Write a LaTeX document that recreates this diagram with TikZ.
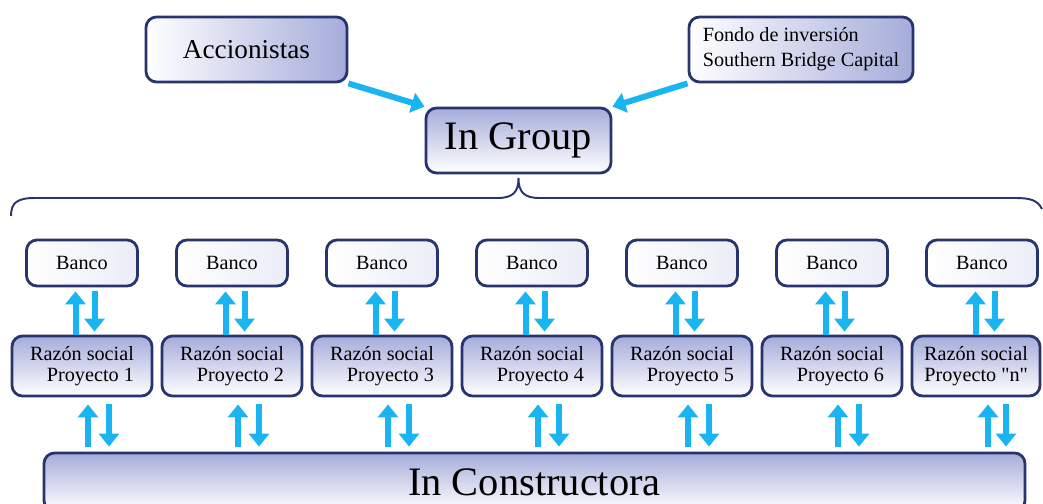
\documentclass[tikz,border=0pt]{standalone}
\usepackage{fontspec}
\setmainfont{Liberation Serif}[Ligatures=TeXOff]
\usetikzlibrary{arrows.meta,positioning}
\definecolor{boxline}{RGB}{40,52,110}
\definecolor{boxtop}{RGB}{165,172,218}
\definecolor{flowblue}{RGB}{26,180,240}
\tikzset{
     orgbox/.style   = {draw=boxline, line width=1.6pt, rounded corners=6pt, inner sep=0pt},
     vbox/.style     = {orgbox, top color=boxtop, bottom color=white},
     hbox/.style     = {orgbox, left color=white, right color=boxtop},
     bancobox/.style = {orgbox, left color=white, right color=boxtop!22,
                        minimum width=2.22cm, minimum height=0.92cm, font=\fontsize{11.5}{12}\selectfont},
     razonbox/.style = {vbox, minimum width=2.8cm, minimum height=1.2cm, align=right,
                        font=\fontsize{11.5}{12}\selectfont},
     flow/.style     = {flowblue, line width=0.12cm, -{Triangle[width=0.4cm,length=0.26cm]}},
     brace/.style    = {boxline, line width=1.1pt},
    }

\begin{document}
\begin{tikzpicture}[node distance=3cm,on grid]
        \useasboundingbox (0,0) rectangle (20.86,-10.08);

        % top level
        \node [hbox, minimum width=4.02cm, minimum height=1.3cm, font=\fontsize{15.5}{17}\selectfont]
              (acc) at (4.93,-0.99) {Accionistas};
        \node [hbox, minimum width=4.48cm, minimum height=1.3cm, align=left, font=\fontsize{11.5}{14.2}\selectfont]
              (fondo) at (16.02,-0.99) {Fondo de inversión\\ Southern Bridge Capital};
        \node [vbox, minimum width=3.7cm, minimum height=1.3cm, font=\fontsize{23}{25}\selectfont]
              (ig) at (10.37,-2.81) {In Group};

        \draw[flow] (acc.south east) -- (ig.north west);
        \draw[flow] (fondo.south west) -- (ig.north east);

        % brace
        \draw[brace] (0.22,-4.32) .. controls (0.22,-4.05) and (0.35,-3.96) .. (0.7,-3.96)
              -- (9.95,-3.96) .. controls (10.25,-3.96) and (10.37,-3.85) .. (10.37,-3.56)
              .. controls (10.37,-3.85) and (10.49,-3.96) .. (10.79,-3.96)
              -- (20.3,-3.96) .. controls (20.6,-3.96) and (20.75,-4.0) .. (20.84,-4.18);

        % banks
        \node [bancobox] (b1) at (1.64,-5.26) {Banco};
        \node [bancobox] (b2) [right=of b1]   {Banco};
        \node [bancobox] (b3) [right=of b2]   {Banco};
        \node [bancobox] (b4) [right=of b3]   {Banco};
        \node [bancobox] (b5) [right=of b4]   {Banco};
        \node [bancobox] (b6) [right=of b5]   {Banco};
        \node [bancobox] (b7) [right=of b6]   {Banco};

        % project companies
        \node [razonbox] (r1) [below=2.06cm of b1] {Razón social\\Proyecto 1};
        \node [razonbox] (r2) [below=2.06cm of b2] {Razón social\\Proyecto 2};
        \node [razonbox] (r3) [below=2.06cm of b3] {Razón social\\Proyecto 3};
        \node [razonbox] (r4) [below=2.06cm of b4] {Razón social\\Proyecto 4};
        \node [razonbox] (r5) [below=2.06cm of b5] {Razón social\\Proyecto 5};
        \node [razonbox] (r6) [below=2.06cm of b6] {Razón social\\Proyecto 6};
        \node [razonbox, minimum width=2.56cm] (r7) [below=2.06cm of b7, xshift=-0.12cm] {Razón social\\Proyecto "n"};

        \node [vbox, minimum width=19.62cm, minimum height=1.16cm, font=\fontsize{23}{25}\selectfont]
              (ic) at (10.69,-9.64) {In Constructora};

        % bank <-> company
        \draw[flow, shorten >=0.08cm] ([xshift=-0.13cm]b1.south |- r1.north) -- ([xshift=-0.13cm]b1.south);
        \draw[flow, shorten <=0.08cm, shorten >=0.06cm] ([xshift=0.25cm]b1.south) -- ([xshift=0.25cm]b1.south |- r1.north);
        \draw[flow, shorten >=0.08cm] ([xshift=-0.13cm]b2.south |- r2.north) -- ([xshift=-0.13cm]b2.south);
        \draw[flow, shorten <=0.08cm, shorten >=0.06cm] ([xshift=0.25cm]b2.south) -- ([xshift=0.25cm]b2.south |- r2.north);
        \draw[flow, shorten >=0.08cm] ([xshift=-0.13cm]b3.south |- r3.north) -- ([xshift=-0.13cm]b3.south);
        \draw[flow, shorten <=0.08cm, shorten >=0.06cm] ([xshift=0.25cm]b3.south) -- ([xshift=0.25cm]b3.south |- r3.north);
        \draw[flow, shorten >=0.08cm] ([xshift=-0.13cm]b4.south |- r4.north) -- ([xshift=-0.13cm]b4.south);
        \draw[flow, shorten <=0.08cm, shorten >=0.06cm] ([xshift=0.25cm]b4.south) -- ([xshift=0.25cm]b4.south |- r4.north);
        \draw[flow, shorten >=0.08cm] ([xshift=-0.13cm]b5.south |- r5.north) -- ([xshift=-0.13cm]b5.south);
        \draw[flow, shorten <=0.08cm, shorten >=0.06cm] ([xshift=0.25cm]b5.south) -- ([xshift=0.25cm]b5.south |- r5.north);
        \draw[flow, shorten >=0.08cm] ([xshift=-0.13cm]b6.south |- r6.north) -- ([xshift=-0.13cm]b6.south);
        \draw[flow, shorten <=0.08cm, shorten >=0.06cm] ([xshift=0.25cm]b6.south) -- ([xshift=0.25cm]b6.south |- r6.north);
        \draw[flow, shorten >=0.08cm] ([xshift=-0.13cm]b7.south |- r7.north) -- ([xshift=-0.13cm]b7.south);
        \draw[flow, shorten <=0.08cm, shorten >=0.06cm] ([xshift=0.25cm]b7.south) -- ([xshift=0.25cm]b7.south |- r7.north);

        % company <-> constructora
        \draw[flow, shorten <=0.1cm, shorten >=0.14cm] ([xshift=0.12cm]b1.south |- ic.north) -- ([xshift=0.12cm]b1.south |- r1.south);
        \draw[flow, shorten <=0.14cm, shorten >=0.1cm] ([xshift=0.54cm]b1.south |- r1.south) -- ([xshift=0.54cm]b1.south |- ic.north);
        \draw[flow, shorten <=0.1cm, shorten >=0.14cm] ([xshift=0.12cm]b2.south |- ic.north) -- ([xshift=0.12cm]b2.south |- r2.south);
        \draw[flow, shorten <=0.14cm, shorten >=0.1cm] ([xshift=0.54cm]b2.south |- r2.south) -- ([xshift=0.54cm]b2.south |- ic.north);
        \draw[flow, shorten <=0.1cm, shorten >=0.14cm] ([xshift=0.12cm]b3.south |- ic.north) -- ([xshift=0.12cm]b3.south |- r3.south);
        \draw[flow, shorten <=0.14cm, shorten >=0.1cm] ([xshift=0.54cm]b3.south |- r3.south) -- ([xshift=0.54cm]b3.south |- ic.north);
        \draw[flow, shorten <=0.1cm, shorten >=0.14cm] ([xshift=0.12cm]b4.south |- ic.north) -- ([xshift=0.12cm]b4.south |- r4.south);
        \draw[flow, shorten <=0.14cm, shorten >=0.1cm] ([xshift=0.54cm]b4.south |- r4.south) -- ([xshift=0.54cm]b4.south |- ic.north);
        \draw[flow, shorten <=0.1cm, shorten >=0.14cm] ([xshift=0.12cm]b5.south |- ic.north) -- ([xshift=0.12cm]b5.south |- r5.south);
        \draw[flow, shorten <=0.14cm, shorten >=0.1cm] ([xshift=0.54cm]b5.south |- r5.south) -- ([xshift=0.54cm]b5.south |- ic.north);
        \draw[flow, shorten <=0.1cm, shorten >=0.14cm] ([xshift=0.12cm]b6.south |- ic.north) -- ([xshift=0.12cm]b6.south |- r6.south);
        \draw[flow, shorten <=0.14cm, shorten >=0.1cm] ([xshift=0.54cm]b6.south |- r6.south) -- ([xshift=0.54cm]b6.south |- ic.north);
        \draw[flow, shorten <=0.1cm, shorten >=0.14cm] ([xshift=0.12cm]b7.south |- ic.north) -- ([xshift=0.12cm]b7.south |- r7.south);
        \draw[flow, shorten <=0.14cm, shorten >=0.1cm] ([xshift=0.48cm]b7.south |- r7.south) -- ([xshift=0.48cm]b7.south |- ic.north);
    \end{tikzpicture}
\end{document}
